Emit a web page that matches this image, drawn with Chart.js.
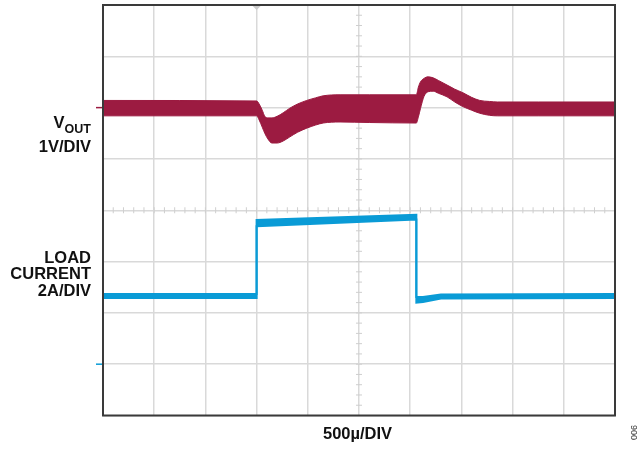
<!DOCTYPE html>
<html>
<head>
<meta charset="utf-8">
<script src="https://cdn.jsdelivr.net/npm/chart.js@4/dist/chart.umd.min.js"></script>
<style>
  html, body { margin: 0; padding: 0; background: #fff; }
  #wrap { position: relative; width: 642px; height: 451px; overflow: hidden; }
  canvas { position: absolute; left: 0; top: 0; }
  .lbl { position: absolute; font-family: "Liberation Sans", Arial, sans-serif; font-weight: bold;
         font-size: 16.5px; line-height: 16.5px; color: #111; white-space: nowrap; }
  .r { right: 551px; text-align: right; }
  .sub { font-size: 12.5px; position: relative; top: 5px; }
</style>
</head>
<body>
<div id="wrap">
  <canvas id="c" width="642" height="451"></canvas>
  <div class="lbl r" style="top:114px">V<span class="sub">OUT</span></div>
  <div class="lbl r" style="top:138px">1V/DIV</div>
  <div class="lbl r" style="top:249px">LOAD</div>
  <div class="lbl r" style="top:265px">CURRENT</div>
  <div class="lbl r" style="top:282px">2A/DIV</div>
  <div class="lbl" style="top:425px; left:323px">500µ/DIV</div>
  <div class="lbl" style="top:428px; left:627px; font-size:9px; line-height:9px; font-weight:normal; color:#333; transform:rotate(-90deg); transform-origin:center;">006</div>
</div>
<script>
// Horizontal position in divisions (500µs/div), vertical in divisions
const voutX    = [0, 3.0, 3.05, 3.11, 3.16, 3.22, 3.30, 3.40, 3.52, 3.65, 3.80, 3.98, 4.15, 4.30, 4.63, 5.2, 6.12, 6.16, 6.20, 6.27, 6.35, 6.45, 6.55, 6.72, 6.87, 7.03, 7.20, 7.36, 7.55, 7.70, 8.5, 10];
const voutHigh = [6.14, 6.13, 6.07, 5.95, 5.83, 5.80, 5.80, 5.83, 5.90, 5.99, 6.07, 6.14, 6.19, 6.23, 6.25, 6.25, 6.25, 6.40, 6.50, 6.57, 6.60, 6.58, 6.53, 6.44, 6.36, 6.29, 6.20, 6.14, 6.12, 6.11, 6.11, 6.11];
const voutLow  = [5.84, 5.84, 5.76, 5.62, 5.50, 5.39, 5.31, 5.31, 5.35, 5.43, 5.52, 5.60, 5.66, 5.70, 5.72, 5.71, 5.70, 5.82, 5.98, 6.22, 6.31, 6.32, 6.28, 6.21, 6.11, 6.02, 5.95, 5.89, 5.85, 5.84, 5.84, 5.84];

const loadX    = [0, 3.0, 3.0, 6.12, 6.12, 6.25, 6.6, 10];
const loadHigh = [2.37, 2.37, 3.81, 3.91, 2.31, 2.31, 2.36, 2.37];
const loadLow  = [2.29, 2.29, 3.69, 3.82, 2.20, 2.21, 2.28, 2.29];

const xDivs = 10, yDivs = 8;
const voutMarker = 6, loadMarker = 1;

const RED = '#9c1b41';
const BLUE = '#0a9bd6';

const pts = (xs, ys) => xs.map((x, i) => ({ x: x, y: ys[i] }));

const scopePlugin = {
  id: 'scope',
  beforeDatasetsDraw(chart) {
    const { ctx, scales: { x, y } } = chart;
    ctx.save();
    ctx.strokeStyle = '#cfcfcf';
    ctx.lineWidth = 1;
    const cx = x.getPixelForValue(xDivs / 2), cy = y.getPixelForValue(yDivs / 2);
    for (let v = 0; v <= xDivs; v += 0.2) {
      const px = x.getPixelForValue(v);
      ctx.beginPath(); ctx.moveTo(px, cy - 3); ctx.lineTo(px, cy + 3); ctx.stroke();
    }
    for (let v = 0; v <= yDivs; v += 0.2) {
      const py = y.getPixelForValue(v);
      ctx.beginPath(); ctx.moveTo(cx - 3, py); ctx.lineTo(cx + 3, py); ctx.stroke();
    }
    ctx.restore();
  },
  afterDraw(chart) {
    const { ctx, chartArea: a, scales: { x, y } } = chart;
    ctx.save();
    ctx.strokeStyle = '#3a3a3a';
    ctx.lineWidth = 2;
    ctx.strokeRect(a.left, a.top, a.right - a.left, a.bottom - a.top);
    // channel markers
    ctx.lineWidth = 1.5;
    ctx.strokeStyle = RED;
    let py = y.getPixelForValue(voutMarker);
    ctx.beginPath(); ctx.moveTo(a.left - 7, py); ctx.lineTo(a.left - 1, py); ctx.stroke();
    ctx.strokeStyle = BLUE;
    py = y.getPixelForValue(loadMarker);
    ctx.beginPath(); ctx.moveTo(a.left - 7, py); ctx.lineTo(a.left - 1, py); ctx.stroke();
    // trigger marker
    const tx = x.getPixelForValue(3);
    ctx.fillStyle = '#cccccc';
    ctx.beginPath(); ctx.moveTo(tx - 4, a.top + 1); ctx.lineTo(tx + 4, a.top + 1); ctx.lineTo(tx, a.top + 5); ctx.closePath(); ctx.fill();
    ctx.restore();
  }
};

new Chart(document.getElementById('c'), {
  type: 'line',
  data: {
    datasets: [
      { data: pts(voutX, voutHigh), borderColor: RED, borderWidth: 1, pointRadius: 0, fill: false, cubicInterpolationMode: 'monotone' },
      { data: pts(voutX, voutLow), borderColor: RED, borderWidth: 1, pointRadius: 0, fill: '-1', backgroundColor: RED, cubicInterpolationMode: 'monotone' },
      { data: pts(loadX, loadHigh), borderColor: BLUE, borderWidth: 2, pointRadius: 0, fill: false, tension: 0 },
      { data: pts(loadX, loadLow), borderColor: BLUE, borderWidth: 2, pointRadius: 0, fill: '-1', backgroundColor: BLUE, tension: 0 }
    ]
  },
  options: {
    responsive: false,
    animation: false,
    events: [],
    layout: { padding: { left: 103, top: 5, right: 27, bottom: 35.5 } },
    plugins: { legend: { display: false }, tooltip: { enabled: false } },
    scales: {
      x: {
        type: 'linear', min: 0, max: xDivs,
        ticks: { stepSize: 1, display: false },
        grid: { color: '#d9d9d9', lineWidth: 1.5, drawTicks: false },
        border: { display: false }
      },
      y: {
        type: 'linear', min: 0, max: yDivs,
        ticks: { stepSize: 1, display: false },
        grid: { color: '#d9d9d9', lineWidth: 1.5, drawTicks: false },
        border: { display: false }
      }
    }
  },
  plugins: [scopePlugin]
});
</script>
</body>
</html>
